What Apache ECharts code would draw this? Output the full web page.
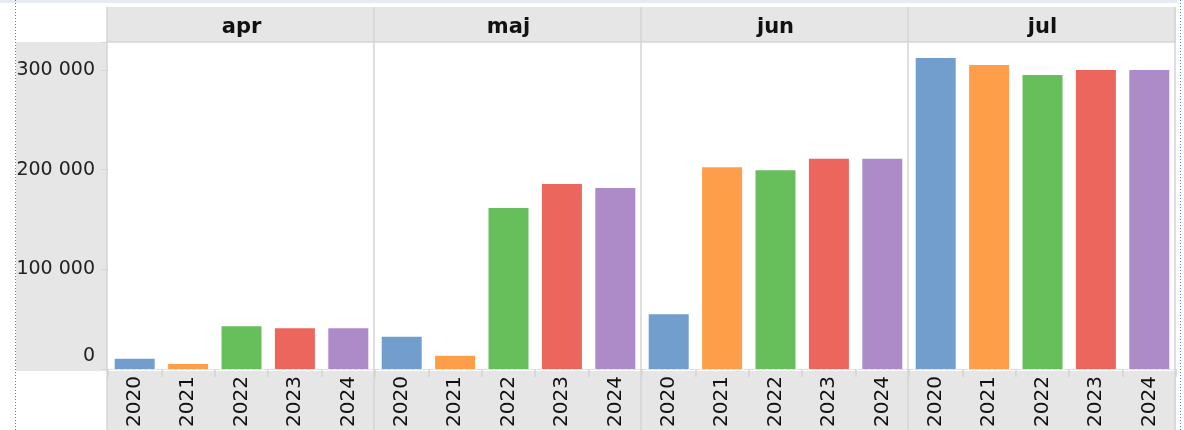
<!DOCTYPE html>
<html>
<head>
<meta charset="utf-8">
<script src="https://cdn.jsdelivr.net/npm/echarts@6/dist/echarts.min.js"></script>
<style>
  html, body { margin: 0; padding: 0; background: #fff; }
  #chart { width: 1184px; height: 430px; }
</style>
</head>
<body>
<div id="chart"></div>
<script>
// months (panels) and years (bars in each panel)
var months = ['apr', 'maj', 'jun', 'jul']
var years = ['2020', '2021', '2022', '2023', '2024']

// one array per year, values per month
var v2020 = [10500, 32500, 55000, 312000]
var v2021 = [5000, 13500, 202500, 305000]
var v2022 = [43000, 161500, 199500, 295000]
var v2023 = [41000, 185500, 211000, 300000]
var v2024 = [41000, 181500, 211000, 300000]
var byYear = [v2020, v2021, v2022, v2023, v2024]

var yTicks = [0, 100000, 200000, 300000]

var colors = ['#729ece', '#ff9e4a', '#67bf5c', '#ed665d', '#ad8bc9']
var font = 'DejaVu Sans'

var chart = echarts.init(document.getElementById('chart'))

var left0 = 108
var panelW = 267
var top0 = 42
var plotH = 329

var grids = [], xAxes = [], yAxes = [], series = [], titles = []

months.forEach(function(m, i) {
  grids.push({
    left: left0 + panelW * i,
    top: top0,
    width: panelW,
    height: plotH,
    containLabel: false
  })
  xAxes.push({
    type: 'category',
    gridIndex: i,
    data: years,
    axisLine: { show: true, lineStyle: { color: '#dcdcdc', type: 'dashed', width: 1 } },
    axisTick: { show: true, length: 8, interval: 0, lineStyle: { color: '#d4d4d4', width: 1.5 } },
    axisLabel: {
      rotate: 90,
      margin: 7,
      interval: 0,
      fontFamily: font,
      fontSize: 20,
      color: '#111'
    }
  })
  yAxes.push({
    type: 'value',
    gridIndex: i,
    min: 0,
    max: 328000,
    interval: 100000,
    splitLine: { show: false },
    axisLine: { show: false },
    axisTick: { show: i === 0, length: 7, lineStyle: { color: '#d6d6d6' } },
    axisLabel: {
      show: i === 0,
      margin: 13,
      fontFamily: font,
      fontSize: 19,
      color: '#222',
      formatter: function(v) {
        if (yTicks.indexOf(v) < 0) return ''
        if (v === 0) return '{z|0}'
        return (v / 1000) + ' 000'
      },
      rich: {
        z: { fontFamily: font, fontSize: 19, color: '#222', padding: [0, 0, 26, 0] }
      }
    }
  })
  series.push({
    type: 'bar',
    xAxisIndex: i,
    yAxisIndex: i,
    colorBy: 'data',
    barWidth: 40,
    data: byYear.map(function(arr) { return arr[i] })
  })
  titles.push({
    text: m,
    left: left0 + panelW * i + panelW / 2,
    top: 17,
    textAlign: 'center',
    padding: 0,
    textStyle: { fontFamily: font, fontWeight: 'bold', fontSize: 21, color: '#111' }
  })
})

// background bands and separators
var graphics = [
  { type: 'rect', z: -10, shape: { x: 0, y: 0, width: 1177, height: 3 }, style: { fill: '#e6ecf2' } },
  { type: 'rect', z: -10, shape: { x: 107, y: 7, width: 1069, height: 35 }, style: { fill: '#e6e6e6' } },
  { type: 'rect', z: -10, shape: { x: 16, y: 42, width: 91, height: 329 }, style: { fill: '#e6e6e6' } },
  { type: 'rect', z: -10, shape: { x: 107, y: 371, width: 1069, height: 59 }, style: { fill: '#e6e6e6' } },
  { type: 'line', z: 50, shape: { x1: 107, y1: 42, x2: 1176, y2: 42 }, style: { stroke: '#d4d4d4', lineWidth: 1.5 } },
  { type: 'line', z: 50, shape: { x1: 15.5, y1: 0, x2: 15.5, y2: 430 }, style: { stroke: '#4f7fb8', lineWidth: 1, lineDash: [1, 2] } },
  { type: 'line', z: 50, shape: { x1: 1180.5, y1: 0, x2: 1180.5, y2: 430 }, style: { stroke: '#4f7fb8', lineWidth: 1, lineDash: [1, 2] } }
]
for (var k = 0; k <= months.length; k++) {
  var x = left0 - 1 + panelW * k
  graphics.push({ type: 'line', z: 50, shape: { x1: x, y1: 7, x2: x, y2: 430 }, style: { stroke: '#d4d4d4', lineWidth: 1.5 } })
}

chart.setOption({
  animation: false,
  color: colors,
  title: titles,
  grid: grids,
  xAxis: xAxes,
  yAxis: yAxes,
  series: series,
  graphic: graphics
})
</script>
</body>
</html>
